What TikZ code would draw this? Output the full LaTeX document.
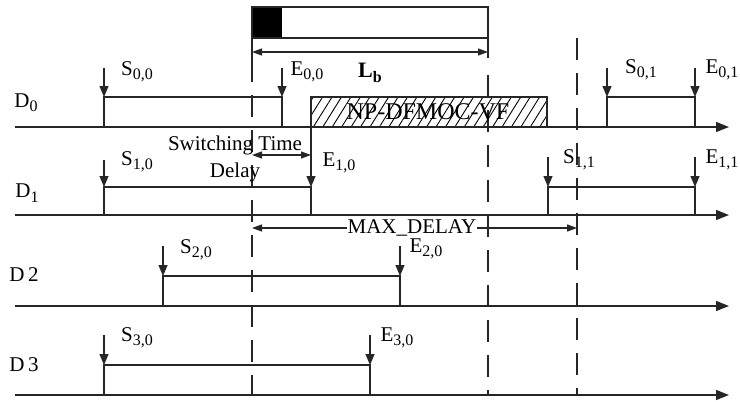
\documentclass[tikz,border=0pt]{standalone}
\usepackage{fontspec}
\setmainfont{Liberation Serif}
\usetikzlibrary{arrows.meta,patterns.meta}
\newcommand\subt[1]{\raisebox{-0.45ex}{\fontsize{16}{16}\selectfont #1}}
\begin{document}
\begin{tikzpicture}[x=1pt,y=-1pt,
  lbl/.style={font=\fontsize{21}{25}\selectfont, inner sep=0pt},
  ln/.style={line width=1.2pt, draw=black!85},
  dn/.style={ln, -{Triangle[length=11pt,width=9pt]}},
  ax/.style={ln, -{Triangle[length=13pt,width=10pt]}},
  dimarr/.style={ln, {Triangle[length=10pt,width=7pt]}-{Triangle[length=10pt,width=7pt]}},
  dsh/.style={ln, dash pattern=on 22pt off 13pt},
  hatchbox/.style={ln, pattern={Lines[angle=58,distance=8pt,line width=0.9pt]}}]
\useasboundingbox (0,0) rectangle (740,402);

% top frame (Lb block)
\fill[black] (252,7) rectangle (282,38);
\draw[ln] (252,7) rectangle (488,38);
\draw[ln] (252,38) -- (252,60);
\draw[ln] (488,38) -- (488,58);
\draw[dsh] (252,60) -- (252,395);
\draw[dsh] (488,75) -- (488,395);
\draw[dsh] (577,38) -- (577,395);
\coordinate (lbL) at (252,52);
\coordinate (lbR) at (488,52);
\draw[dimarr] (lbL) -- (lbR);
\node[lbl, font=\fontsize{22}{26}\selectfont\bfseries] (lb) at (370,73) {L\subt{b}};

% axes
\coordinate (a0s) at (15,127); \coordinate (a0e) at (729,127);
\coordinate (a1s) at (15,215); \coordinate (a1e) at (729,215);
\coordinate (a2s) at (15,306); \coordinate (a2e) at (729,306);
\coordinate (a3s) at (15,395); \coordinate (a3e) at (729,395);
\draw[ax] (a0s) -- (a0e);
\draw[ax] (a1s) -- (a1e);
\draw[ax] (a2s) -- (a2e);
\draw[ax] (a3s) -- (a3e);

\node[lbl] (d0) at (26,103) {D\subt{0}};
\node[lbl] (d1) at (27,193) {D\subt{1}};
\node[lbl] (d2) at (24,275) {D\,2};
\node[lbl] (d3) at (24,365) {D\,3};

% D0 row
\draw[ln] (104,127) -- (104,97) -- (282,97) -- (282,127);
\draw[dn] (104,68) -- (104,97);
\draw[dn] (282,68) -- (282,97);
\node[lbl] (s00) at (137,72) {S\subt{0,0}};
\node[lbl] (e00) at (307,72) {E\subt{0,0}};
\draw[hatchbox] (311,127) rectangle (547,97);
\node[lbl, font=\fontsize{24}{28}\selectfont] (np) at (428,112) {NP-DFMOC-VF};
\draw[ln] (607,127) -- (607,97) -- (695,97) -- (695,127);
\draw[dn] (607,68) -- (607,97);
\draw[dn] (695,68) -- (695,97);
\node[lbl] (s01) at (641,70) {S\subt{0,1}};
\node[lbl] (e01) at (722,70) {E\subt{0,1}};

% D1 row
\draw[ln] (104,215) -- (104,187) -- (311,187) -- (311,215);
\draw[dn] (104,160) -- (104,187);
\draw[dn] (311,127) -- (311,187);
\node[lbl] (s10) at (137,162) {S\subt{1,0}};
\node[lbl] (e10) at (339,163) {E\subt{1,0}};
\draw[dimarr] (252,155) -- (311,155);
\node[lbl] (sw1) at (235,145) {Switching Time};
\node[lbl] (sw2) at (235,172) {Delay};
\draw[ln] (548,215) -- (548,187) -- (695,187) -- (695,215);
\draw[dn] (548,157) -- (548,187);
\draw[dn] (695,157) -- (695,187);
\node[lbl] (s11) at (579,160) {S\subt{1,1}};
\node[lbl] (e11) at (722,160) {E\subt{1,1}};

% MAX_DELAY
\draw[dimarr] (252,228) -- (577,228);
\node[lbl, fill=white, inner xsep=1pt] (md) at (412,228) {MAX\_DELAY};

% D2 row
\draw[ln] (163,306) -- (163,276) -- (400,276) -- (400,306);
\draw[dn] (163,246) -- (163,276);
\draw[dn] (400,246) -- (400,276);
\node[lbl] (s20) at (196,250) {S\subt{2,0}};
\node[lbl] (e20) at (426,249) {E\subt{2,0}};

% D3 row
\draw[ln] (104,395) -- (104,365) -- (370,365) -- (370,395);
\draw[dn] (104,335) -- (104,365);
\draw[dn] (370,335) -- (370,365);
\node[lbl] (s30) at (137,338) {S\subt{3,0}};
\node[lbl] (e30) at (397,338) {E\subt{3,0}};
\end{tikzpicture}
\end{document}
